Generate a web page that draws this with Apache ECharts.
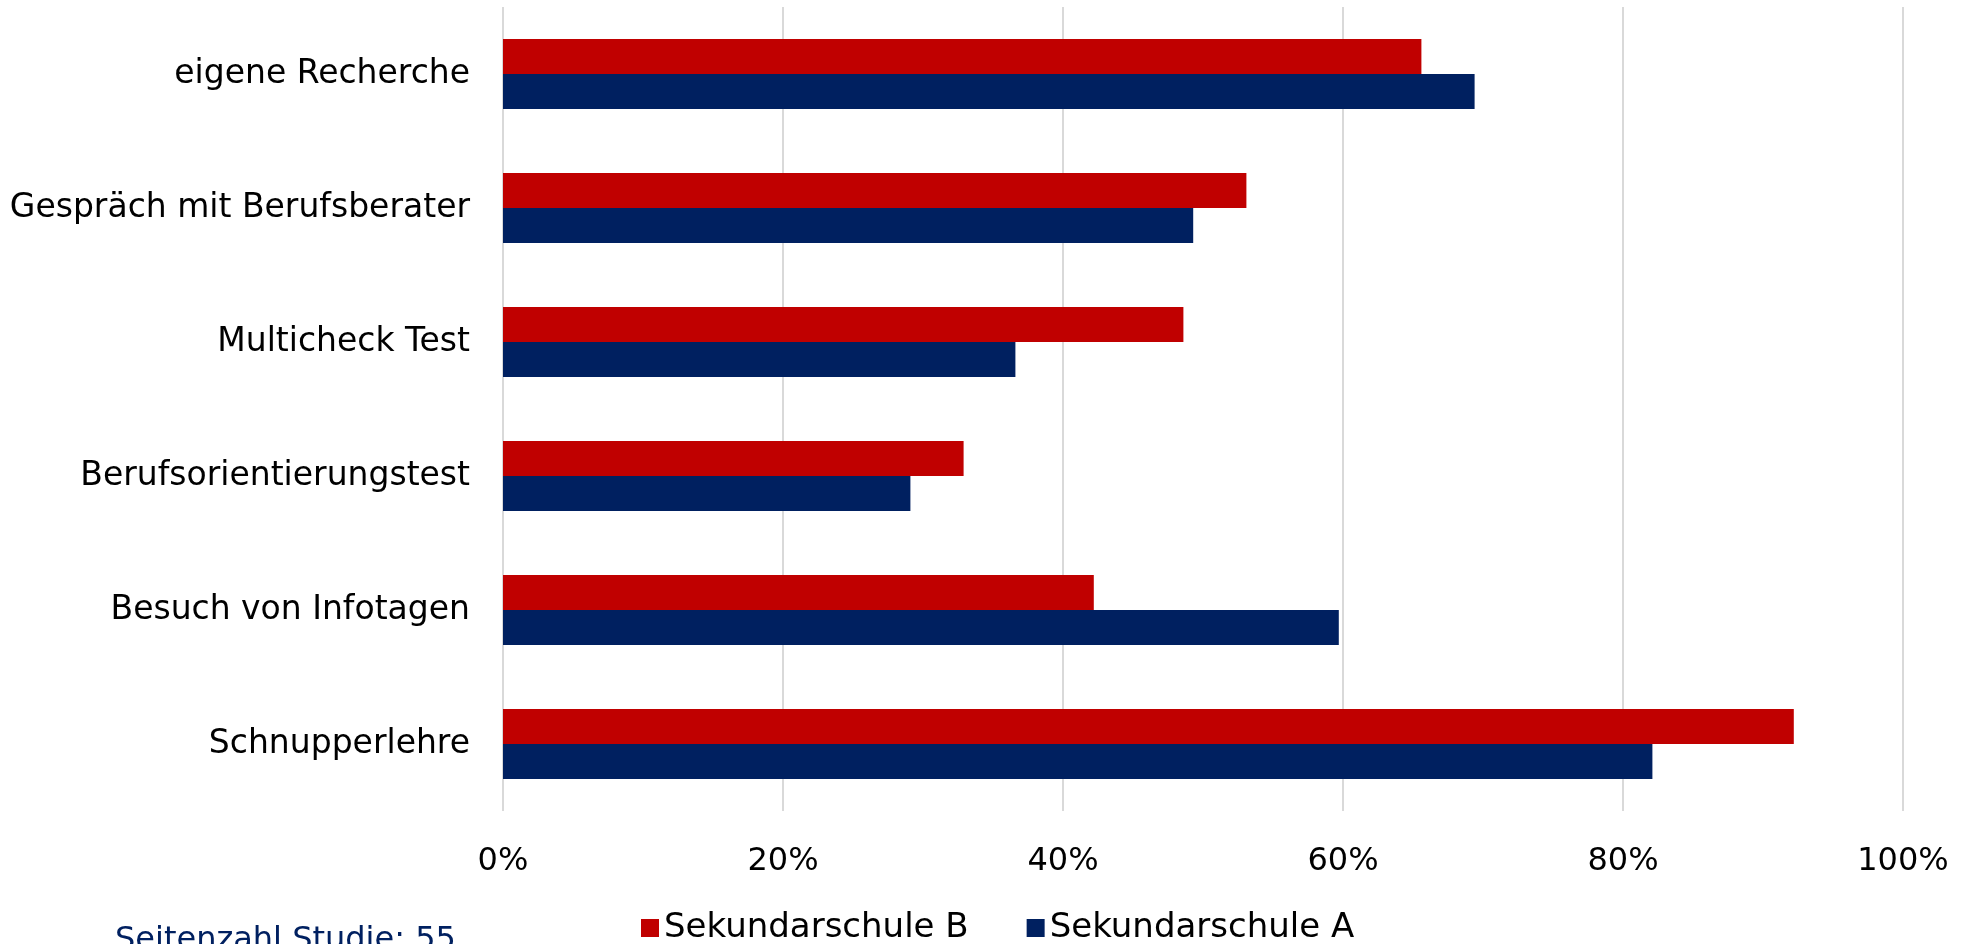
<!DOCTYPE html>
<html>
<head>
<meta charset="utf-8">
<title>Berufswahl – Informationsquellen</title>
<script src="https://cdn.jsdelivr.net/npm/echarts@6/dist/echarts.min.js"></script>
<style>
  html, body { margin: 0; padding: 0; background: #ffffff; }
  #chart { width: 1965px; height: 944px; }
</style>
</head>
<body>
<div id="chart"></div>
<script>
// Categories listed bottom-to-top (category axis starts at the bottom)
const categories = [
  'Schnupperlehre',
  'Besuch von Infotagen',
  'Berufsorientierungstest',
  'Multicheck Test',
  'Gespräch mit Berufsberater',
  'eigene Recherche'
];

// Share of students in percent
const schuleB = [92.2, 42.2, 32.9, 48.6, 53.1, 65.6];
const schuleA = [82.1, 59.7, 29.1, 36.6, 49.3, 69.4];

const seriesNames = ['Sekundarschule B', 'Sekundarschule A'];
const xTicks = { min: 0, max: 100, interval: 20 };
const footerText = 'Seitenzahl Studie: 55';

const FONT = '"DejaVu Sans", "Liberation Sans", Arial, sans-serif';
const RED = '#C00000';
const NAVY = '#002060';

const chart = echarts.init(document.getElementById('chart'));

chart.setOption({
  backgroundColor: '#ffffff',
  animation: false,
  textStyle: { fontFamily: FONT },
  grid: {
    left: 503,
    right: 62,
    top: 7,
    height: 804,
    containLabel: false
  },
  legend: {
    data: seriesNames,
    left: 636,
    top: 906,
    icon: 'rect',
    itemWidth: 18,
    itemHeight: 18,
    itemGap: 58,
    textStyle: { fontFamily: FONT, fontSize: 34, color: '#000000' }
  },
  xAxis: {
    type: 'value',
    min: xTicks.min,
    max: xTicks.max,
    interval: xTicks.interval,
    axisLine: { show: false },
    axisTick: { show: false },
    axisLabel: {
      formatter: '{value}%',
      fontFamily: FONT,
      fontSize: 32,
      color: '#000000',
      margin: 35
    },
    splitLine: { show: true, lineStyle: { color: '#D9D9D9', width: 2 } }
  },
  yAxis: {
    type: 'category',
    data: categories,
    axisLine: { show: false },
    axisTick: { show: false },
    axisLabel: {
      fontFamily: FONT,
      fontSize: 33,
      color: '#000000',
      margin: 33
    },
    splitLine: { show: false }
  },
  series: [
    {
      name: seriesNames[0],
      type: 'bar',
      data: schuleB,
      barWidth: 35,
      barGap: '0%',
      itemStyle: { color: RED }
    },
    {
      name: seriesNames[1],
      type: 'bar',
      data: schuleA,
      barWidth: 35,
      barGap: '0%',
      itemStyle: { color: NAVY }
    }
  ],
  graphic: [
    {
      type: 'text',
      left: 115,
      top: 925,
      style: {
        text: footerText,
        fill: NAVY,
        font: '32px ' + FONT
      }
    }
  ]
});
</script>
</body>
</html>
